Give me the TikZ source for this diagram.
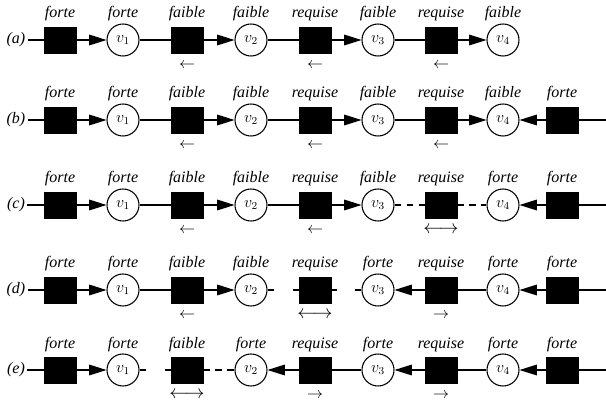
\documentclass[tikz,border=0pt]{standalone}
\usepackage{fontspec}
\setmainfont{Liberation Serif}
\usepackage{tikz}
\usetikzlibrary{arrows.meta}

\tikzset{
  sq/.style={draw,fill=black,minimum width=24pt,minimum height=19.5pt,inner sep=0pt},
  var/.style={draw,circle,minimum size=24pt,inner sep=0pt,line width=0.8pt,font=\large},
  lab/.style={anchor=base,font=\large\itshape,inner sep=0pt},
  con/.style={line width=0.8pt},
  fl/.style={con,-{Triangle[length=13pt,width=8pt]}},
  brk/.style={con,dash pattern=on 5pt off 4pt},
  mv/.style={inner sep=0pt,font=\large},
}

\begin{document}
\begin{tikzpicture}[x=0.75pt,y=0.75pt]
\useasboundingbox (0,0) rectangle (606,407);
% les cinq lignes
\foreach \r/\y/\labs in {
  a/367/{forte,forte,faible,faible,requise,faible,requise,faible},
  b/287/{forte,forte,faible,faible,requise,faible,requise,faible,forte},
  c/202/{forte,forte,faible,faible,requise,faible,requise,forte,forte},
  d/117/{forte,forte,faible,faible,requise,forte,requise,forte,forte},
  e/37/{forte,forte,faible,forte,requise,forte,requise,forte,forte}}{
  \node[font=\large\itshape,inner sep=1.5pt] (\r0) at (16,\y) {(\r)};
  \coordinate (\r R) at (606,\y);
  \foreach \t [count=\i] in \labs {
    \pgfmathsetmacro\xx{{60,123,187,251,315,378,441,503,562}[\i-1]}
    \ifodd\i
      \node[sq] (\r\i) at (\xx,\y) {};
    \else
      \pgfmathtruncatemacro\k{\i/2}
      \node[var] (\r\i) at (\xx,\y) {$v_{\k}$};
    \fi
    \node[lab] (\r\i t) at (\xx,\y+22) {\t};
  }
}
% traits simples
\foreach \u/\v in {a0/a1,a2/a3,a4/a5,a6/a7,
  b0/b1,b2/b3,b4/b5,b6/b7,b9/bR,
  c0/c1,c2/c3,c4/c5,c9/cR,
  d0/d1,d2/d3,d7/d8,d9/dR,
  e0/e1,e5/e6,e7/e8,e9/eR}
  \draw[con] (\u) -- (\v);
% fleches
\foreach \u/\v in {a1/a2,a3/a4,a5/a6,a7/a8,
  b1/b2,b3/b4,b5/b6,b7/b8,b9/b8,
  c1/c2,c3/c4,c5/c6,c9/c8,
  d1/d2,d3/d4,d7/d6,d9/d8,
  e1/e2,e5/e4,e7/e6,e9/e8}
  \draw[fl] (\u) -- (\v);
% pointilles
\draw[brk] (c6) -- (c7);
\draw[brk] (c7) -- (c8);
\draw[brk] (e3) -- (e4);
% coupures
\foreach \u/\v in {d4/d5,d5/d6,e2/e3}
  \draw[con] (\u.east) -- ++(6,0) (\v.west) -- ++(-6,0);
% sens
\foreach \n/\s in {a3/\leftarrow,a5/\leftarrow,a7/\leftarrow,
  b3/\leftarrow,b5/\leftarrow,b7/\leftarrow,
  c3/\leftarrow,c5/\leftarrow,
  d3/\leftarrow,d7/\rightarrow,
  e5/\rightarrow,e7/\rightarrow}
  \node[mv] (\n m) at ([yshift=-19pt]\n) {$\s$};
\foreach \n in {c7,d5,e3}
  \node[mv,font=\Large] (\n m) at ([yshift=-18.5pt]\n) {$\longleftrightarrow$};
\end{tikzpicture}
\end{document}
